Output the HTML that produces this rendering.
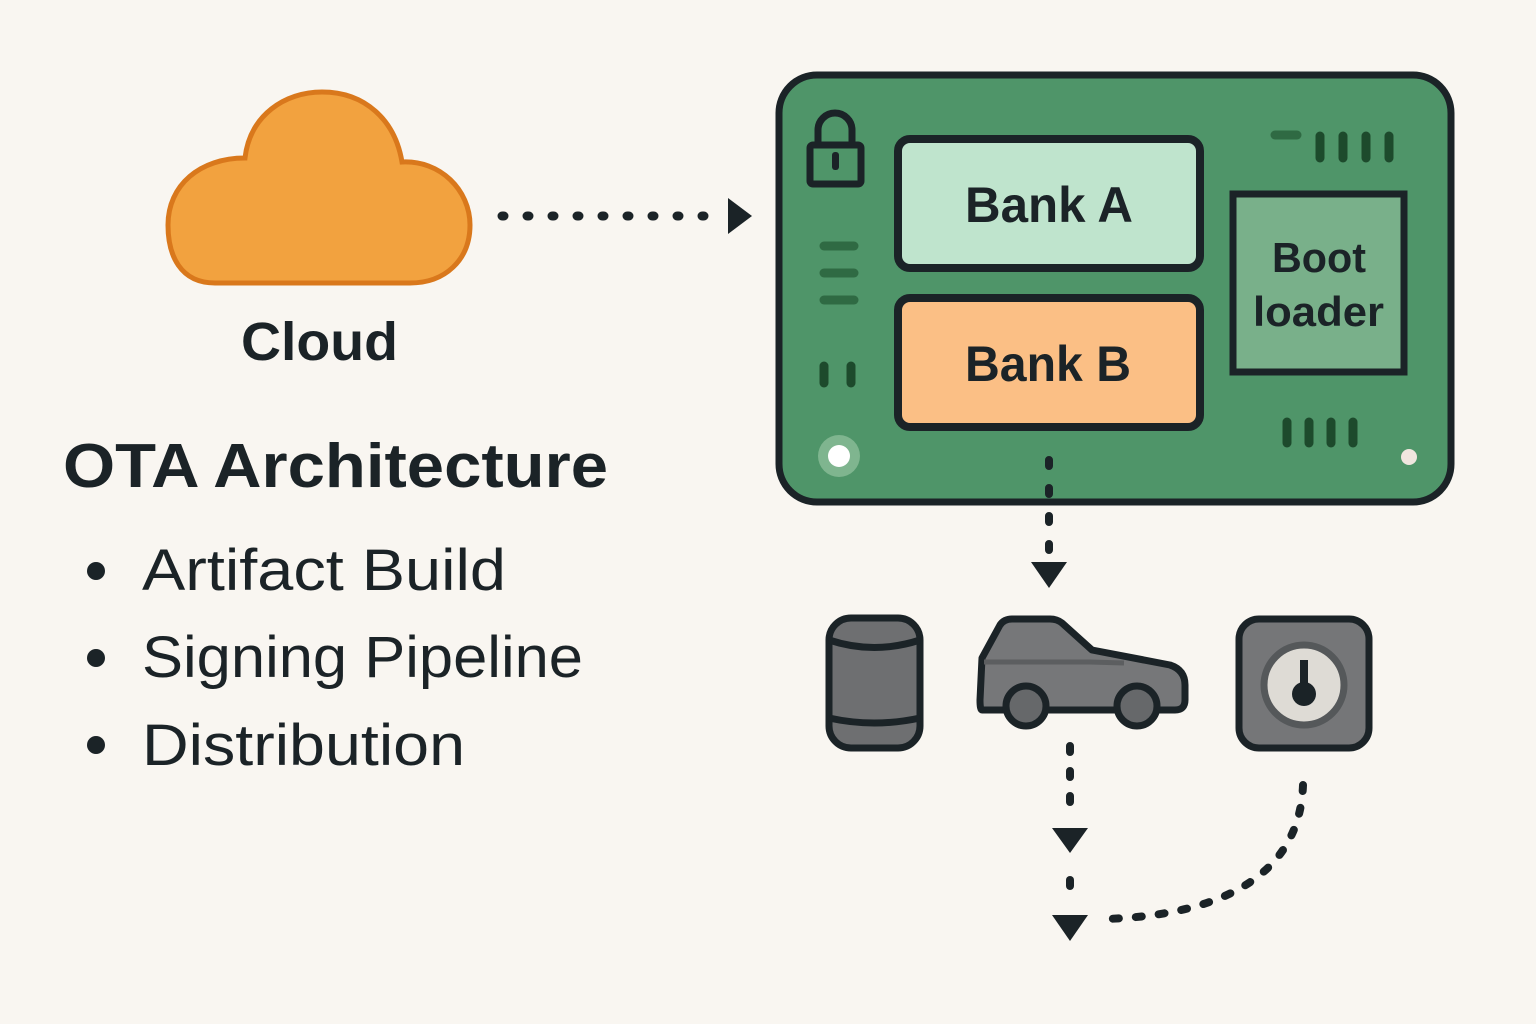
<!DOCTYPE html>
<html><head><meta charset="utf-8"><style>
html,body{margin:0;padding:0;background:#f9f6f1;}
svg{display:block}
text{font-family:"Liberation Sans","DejaVu Sans",sans-serif;fill:#1b2327}
</style></head><body>
<svg width="1536" height="1024" viewBox="0 0 1536 1024" xmlns="http://www.w3.org/2000/svg">
<rect width="1536" height="1024" fill="#f9f6f1"/>
<!-- cloud -->
<path d="M215,283 C180,283 168,255 168,225 C168,185 200,158 245,158 C250,115 285,92 322,92 C365,92 395,120 402,162 C440,160 470,190 470,225 C470,260 445,283 410,283 Z" fill="#f2a23f" stroke="#d9781c" stroke-width="5"/>
<text x="241" y="360" font-size="54" font-weight="bold" textLength="157" lengthAdjust="spacingAndGlyphs">Cloud</text>
<text x="63" y="487" font-size="62" font-weight="bold" textLength="545" lengthAdjust="spacingAndGlyphs">OTA Architecture</text>
<g font-size="58">
<circle cx="96" cy="571" r="9" fill="#1b2327"/><text x="142" y="590" textLength="364" lengthAdjust="spacingAndGlyphs">Artifact Build</text>
<circle cx="96" cy="658" r="9" fill="#1b2327"/><text x="142" y="677" textLength="441" lengthAdjust="spacingAndGlyphs">Signing Pipeline</text>
<circle cx="96" cy="745" r="9" fill="#1b2327"/><text x="142" y="765" textLength="323" lengthAdjust="spacingAndGlyphs">Distribution</text>
</g>
<!-- arrow cloud->board -->
<line x1="502" y1="216" x2="718" y2="216" stroke="#1b2327" stroke-width="9" stroke-linecap="round" stroke-dasharray="2 23"/>
<path d="M728,198 L752,216 L728,234 Z" fill="#1b2327"/>
<!-- board -->
<rect x="779" y="75" width="672" height="427" rx="38" fill="#4f9569" stroke="#1b2327" stroke-width="7"/>
<!-- lock -->
<path d="M818,145 V130 A17,17 0 0 1 852,130 V145" fill="none" stroke="#1b2327" stroke-width="7"/>
<rect x="810" y="145" width="51" height="39" rx="3" fill="#4f9569" stroke="#1b2327" stroke-width="7"/>
<rect x="832" y="152" width="7" height="18" rx="3" fill="#1b2327"/>
<g stroke="#2f6a43" stroke-width="9" stroke-linecap="round">
<line x1="824" y1="246" x2="854" y2="246"/><line x1="824" y1="273" x2="854" y2="273"/><line x1="824" y1="300" x2="854" y2="300"/>
<line x1="1275" y1="135" x2="1297" y2="135"/>
</g>
<g stroke="#1d4a2c" stroke-width="9" stroke-linecap="round">
<line x1="824" y1="366" x2="824" y2="383"/><line x1="851" y1="366" x2="851" y2="383"/>
<line x1="1320" y1="136" x2="1320" y2="158"/><line x1="1343" y1="136" x2="1343" y2="158"/><line x1="1366" y1="136" x2="1366" y2="158"/><line x1="1389" y1="136" x2="1389" y2="158"/>
<line x1="1287" y1="422" x2="1287" y2="443"/><line x1="1309" y1="422" x2="1309" y2="443"/><line x1="1331" y1="422" x2="1331" y2="443"/><line x1="1353" y1="422" x2="1353" y2="443"/>
</g>
<circle cx="839" cy="456" r="21" fill="#7fb58f"/><circle cx="839" cy="456" r="11" fill="#fff"/>
<circle cx="1409" cy="457" r="8" fill="#f0e6df"/>
<rect x="898" y="139" width="302" height="129" rx="12" fill="#bfe4cd" stroke="#1b2327" stroke-width="8"/>
<text x="965" y="222" font-size="50" font-weight="bold" textLength="168" lengthAdjust="spacingAndGlyphs">Bank A</text>
<rect x="898" y="298" width="302" height="129" rx="12" fill="#fbbf85" stroke="#1b2327" stroke-width="8"/>
<text x="965" y="381" font-size="50" font-weight="bold" textLength="166" lengthAdjust="spacingAndGlyphs">Bank B</text>
<rect x="1233" y="194" width="171" height="178" fill="#79b08a" stroke="#1b2327" stroke-width="7"/>
<text x="1272" y="272" font-size="42" font-weight="bold" textLength="94" lengthAdjust="spacingAndGlyphs">Boot</text>
<text x="1253" y="326" font-size="42" font-weight="bold" textLength="131" lengthAdjust="spacingAndGlyphs">loader</text>
<!-- board down arrow -->
<line x1="1049" y1="460" x2="1049" y2="550" stroke="#1b2327" stroke-width="8" stroke-linecap="round" stroke-dasharray="6 22"/>
<path d="M1031,562 L1067,562 L1049,588 Z" fill="#1b2327"/>
<!-- cylinder -->
<rect x="829" y="618" width="91" height="130" rx="22" fill="#6e6f71" stroke="#1b2327" stroke-width="7"/>
<path d="M829,640 Q874,655 920,640 M829,718 Q874,728 920,718" fill="none" stroke="#1b2327" stroke-width="7"/>
<!-- car -->
<path d="M982,658 L1000,625 Q1004,619 1012,619 L1050,619 Q1057,619 1062,623 L1092,650 L1170,665 Q1185,670 1185,685 L1185,700 Q1185,710 1175,710 L982,710 Q980,710 980,700 Z" fill="#767779" stroke="#1b2327" stroke-width="7" stroke-linejoin="round"/>
<path d="M984,662 L1090,662 L1124,663" fill="none" stroke="#5c5e60" stroke-width="5"/>
<circle cx="1026" cy="706" r="20" fill="#66686a" stroke="#1b2327" stroke-width="7"/>
<circle cx="1137" cy="706" r="20" fill="#66686a" stroke="#1b2327" stroke-width="7"/>
<!-- key box -->
<rect x="1239" y="619" width="130" height="129" rx="20" fill="#757678" stroke="#1b2327" stroke-width="7"/>
<circle cx="1304" cy="685" r="40" fill="#dedbd5" stroke="#55585a" stroke-width="7"/>
<rect x="1300" y="660" width="8" height="30" fill="#1b2327"/>
<circle cx="1304" cy="694" r="12" fill="#1b2327"/>
<!-- lower arrows -->
<line x1="1070" y1="746" x2="1070" y2="812" stroke="#1b2327" stroke-width="8" stroke-linecap="round" stroke-dasharray="6 19"/>
<path d="M1052,828 L1088,828 L1070,853 Z" fill="#1b2327"/>
<line x1="1070" y1="880" x2="1070" y2="900" stroke="#1b2327" stroke-width="8" stroke-linecap="round" stroke-dasharray="6 19"/>
<path d="M1052,915 L1088,915 L1070,941 Z" fill="#1b2327"/>
<path d="M1303,785 C1300,870 1230,915 1105,919" fill="none" stroke="#1b2327" stroke-width="8" stroke-linecap="round" stroke-dasharray="6 17"/>
</svg>
</body></html>
